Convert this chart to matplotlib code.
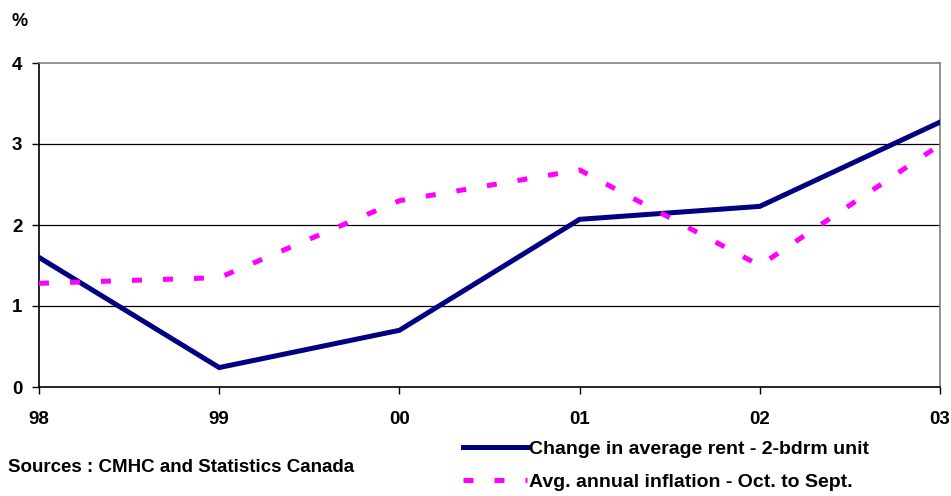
import matplotlib.pyplot as plt

plt.rcParams['font.family'] = ['Liberation Sans', 'DejaVu Sans']

years = ['98', '99', '00', '01', '02', '03']
rent_change = [1.60, 0.24, 0.70, 2.07, 2.23, 3.27]
inflation = [1.28, 1.35, 2.30, 2.68, 1.50, 2.99]

fig = plt.figure(figsize=(9.51, 4.96), dpi=100)
ax = fig.add_axes([39 / 951, 1 - 387 / 496, (940 - 39) / 951, (387 - 63) / 496])

x = list(range(len(years)))
ax.plot(x, rent_change, color='#000080', lw=3.6, solid_joinstyle='miter',
        label='Change in average rent - 2-bdrm unit', zorder=3)
ax.plot(x, inflation, color='#FF00FF', lw=3.6, dashes=(2.0, 4.2), dash_capstyle='butt',
        label='Avg. annual inflation - Oct. to Sept.', zorder=3)

ax.set_xlim(0, len(years) - 1)
ax.set_ylim(0, 4)
ax.set_yticks([0, 1, 2, 3, 4])
ax.set_xticks(x)
ax.set_xticklabels(years)
for lab in ax.get_xticklabels() + ax.get_yticklabels():
    lab.set_fontweight('bold')
    lab.set_fontsize(13.5)
ax.tick_params(axis='x', length=5, width=1, pad=12, color='black')
ax.tick_params(axis='y', length=5, width=1, pad=7, color='black')

for v in [1, 2, 3]:
    ax.axhline(v, color='black', lw=0.9, zorder=1)
ax.spines['left'].set_color('black')
ax.spines['bottom'].set_color('black')
ax.spines['top'].set_color('#808080')
ax.spines['right'].set_color('#808080')
for s in ax.spines.values():
    s.set_linewidth(1.2)

fig.text(12 / 951, 1 - 21 / 496, '%', fontsize=13, fontweight='bold', va='center')
fig.text(8 / 951, 1 - 467 / 496, 'Sources : CMHC and Statistics Canada',
         fontsize=13.5, fontweight='bold', va='center')

fig.legend(loc='upper left', bbox_to_anchor=(463 / 951, 1 - 440 / 496), frameon=False,
           handlelength=3.3, handletextpad=0.1, labelspacing=0.8,
           prop={'weight': 'bold', 'size': 14}, borderaxespad=0, borderpad=0)

fig.savefig('out.png', dpi=100)
